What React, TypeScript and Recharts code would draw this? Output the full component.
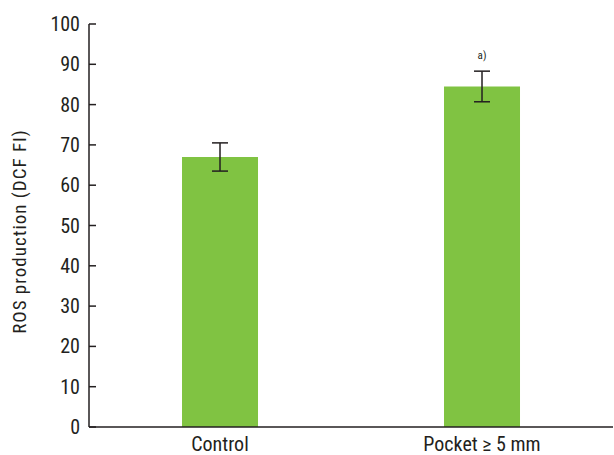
import { BarChart, Bar, XAxis, YAxis, ErrorBar, LabelList } from "recharts"

const groups = ["Control", "Pocket \u2265 5 mm"]
const rosMeans = [67, 84.5]
const rosErrors = [3.5, 3.8]
const notes = ["", "a)"]
const yTicks = [0, 10, 20, 30, 40, 50, 60, 70, 80, 90, 100]

const font = "'Liberation Sans Narrow', 'Roboto Condensed', 'Arial Narrow', Roboto, sans-serif"
const ink = "#231f20"

const chartData = groups.map((g, i) => ({
  group: g,
  value: rosMeans[i],
  err: rosErrors[i],
  note: notes[i],
}))

function YTick(props: any) {
  const { x, y, payload } = props
  return (
    <g>
      <line x1={x} x2={x + 7} y1={y} y2={y} stroke={ink} strokeWidth={1.5} />
      <text x={x - 9} y={y} dy={7} textAnchor="end" fontSize={20} fill={ink} fontFamily={font}>
        {payload.value}
      </text>
    </g>
  )
}

function XTick(props: any) {
  const { x, y, payload } = props
  return (
    <text x={x} y={y} dy={16} textAnchor="middle" fontSize={20} fill={ink} fontFamily={font}>
      {payload.value}
    </text>
  )
}

export default function App() {
  return (
    <div style={{ position: "absolute", left: 0, top: 0, background: "#fff" }}>
      <BarChart
        width={614}
        height={455}
        data={chartData}
        margin={{ top: 24, right: 1, left: 0, bottom: 0 }}
        barCategoryGap="35.5%"
      >
        <XAxis
          dataKey="group"
          tickLine={false}
          axisLine={{ stroke: ink, strokeWidth: 1.5 }}
          height={28}
          tick={<XTick />}
          interval={0}
        />
        <YAxis
          domain={[0, 100]}
          ticks={yTicks}
          width={89}
          tickSize={0}
          tickMargin={0}
          axisLine={{ stroke: ink, strokeWidth: 1.5 }}
          tick={<YTick />}
          interval={0}
          label={{
            value: "ROS production (DCF FI)",
            angle: -90,
            position: "insideLeft",
            dx: 14,
            dy: 6,
            style: { fontSize: 19, letterSpacing: 1, fill: ink, fontFamily: font, textAnchor: "middle" },
          }}
        />
        <Bar dataKey="value" fill="#80c342" isAnimationActive={false}>
          <ErrorBar dataKey="err" width={8} stroke={ink} strokeWidth={1.5} direction="y" />
          <LabelList dataKey="note" position="top" offset={27} fontSize={11} fill={ink} fontFamily={font} />
        </Bar>
      </BarChart>
    </div>
  )
}
